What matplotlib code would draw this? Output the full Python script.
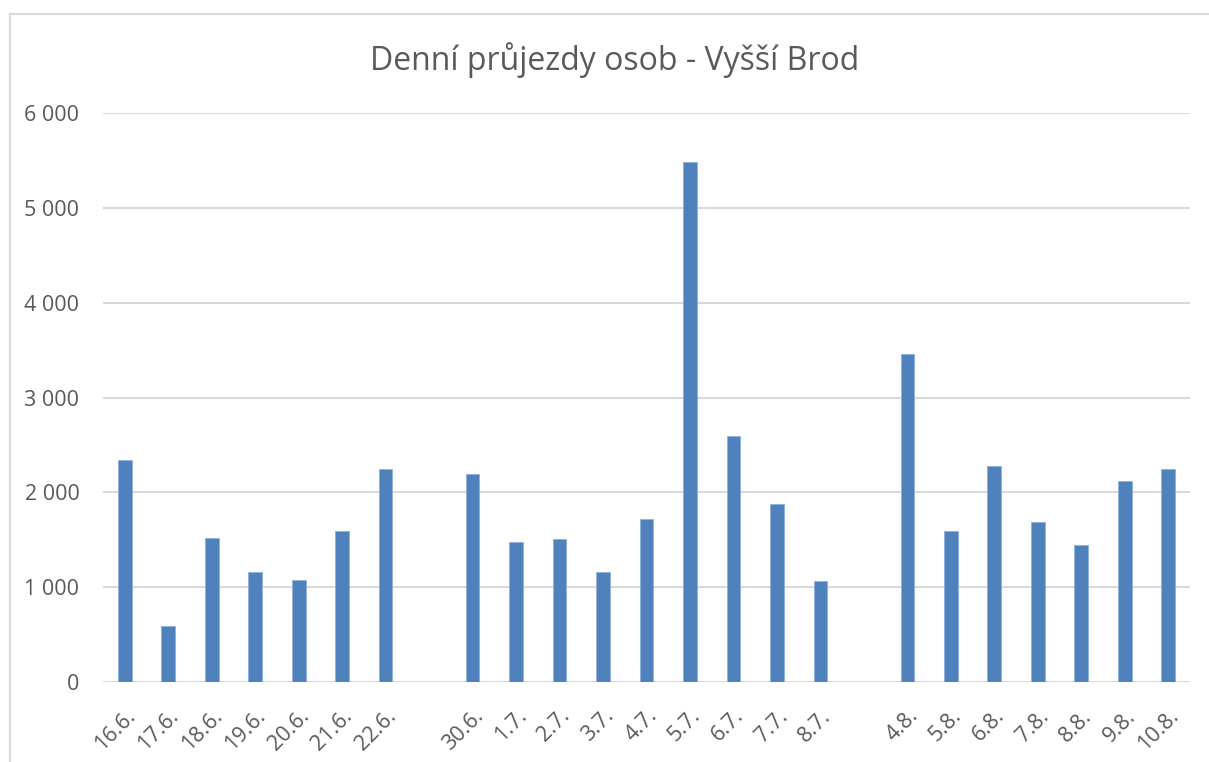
import numpy as np
import matplotlib
matplotlib.use('Agg')
import matplotlib.pyplot as plt
from matplotlib.patches import Rectangle

# data (empty strings = gaps between periods)
dates = ['16.6.', '17.6.', '18.6.', '19.6.', '20.6.', '21.6.', '22.6.', '',
         '30.6.', '1.7.', '2.7.', '3.7.', '4.7.', '5.7.', '6.7.', '7.7.', '8.7.', '',
         '4.8.', '5.8.', '6.8.', '7.8.', '8.8.', '9.8.', '10.8.']
persons = [2345, 593, 1523, 1165, 1074, 1593, 2249, np.nan,
           2190, 1481, 1512, 1155, 1716, 5484, 2597, 1874, 1063, np.nan,
           3457, 1594, 2278, 1684, 1446, 2116, 2242]
yticks = [0, 1000, 2000, 3000, 4000, 5000, 6000]

plt.rcParams['font.family'] = ['Open Sans', 'DejaVu Sans']
txt_color = '#595959'

fig = plt.figure(figsize=(12.09, 7.62), dpi=100)
ax = fig.add_axes([103/1209, 80/762, 1087/1209, 569/762])

x = np.arange(len(dates))
vals = np.array(persons, dtype=float)
ax.bar(x, np.nan_to_num(vals), width=0.315, color='#4F81BD', edgecolor='#8EB0DA',
       linewidth=0.6, zorder=3)

ax.set_xlim(-0.5, len(dates) - 0.5)
ax.set_ylim(0, 6000)
ax.set_yticks(yticks)
ax.set_yticklabels([f'{v:,}'.replace(',', ' ') for v in yticks])
ax.set_xticks(x)
ax.set_xticklabels(dates, rotation=45, ha='right', va='top', rotation_mode='anchor')

ax.grid(axis='y', color='#D9D9D9', linewidth=1.5, zorder=0)
for s in ax.spines.values():
    s.set_visible(False)
ax.tick_params(axis='both', length=0, labelsize=15.5, labelcolor=txt_color)
ax.tick_params(axis='y', pad=17)
ax.tick_params(axis='x', pad=17)

fig.text(615/1209, 1 - 60/762, 'Denní průjezdy osob - Vyšší Brod', ha='center', va='center',
         fontsize=23, color=txt_color)

# light frame around the chart area
fig.patches.append(Rectangle((10/1209, -0.1), 1.2, 1 - 14/762 + 0.1, transform=fig.transFigure,
                             fill=False, edgecolor='#D9D9D9', linewidth=1.5))

fig.savefig('out.png', dpi=100)
